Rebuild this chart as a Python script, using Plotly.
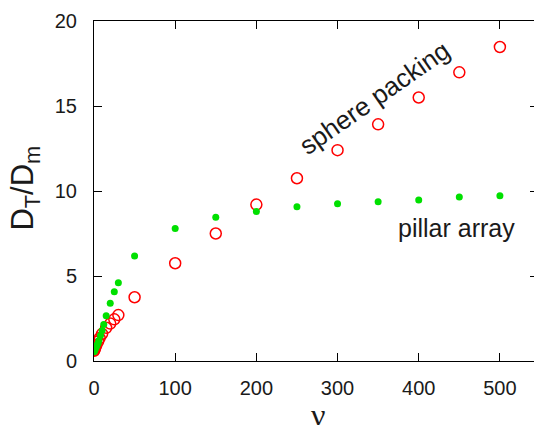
import plotly.graph_objects as go

# Dispersion ratio D_T/D_m versus Peclet-like number nu
nu_sphere = [0.1, 0.5, 1, 2, 3, 5, 7, 10, 15, 20, 25, 30, 50,
             100, 150, 200, 250, 300, 350, 400, 450, 500]
dt_sphere = [0.6, 0.65, 0.75, 0.85, 0.95, 1.15, 1.35, 1.6, 1.95, 2.2, 2.45, 2.7, 3.75,
             5.75, 7.5, 9.2, 10.75, 12.4, 13.92, 15.5, 16.98, 18.47]

nu_pillar = [0.1, 0.5, 1, 2, 3, 4, 5, 6, 8, 10, 12, 15, 20, 25, 30, 50,
             100, 150, 200, 250, 300, 350, 400, 450, 500]
dt_pillar = [0.55, 0.6, 0.65, 0.75, 0.85, 0.95, 1.05, 1.2, 1.5, 1.8, 2.15, 2.66, 3.39, 4.08, 4.6, 6.18,
             7.8, 8.45, 8.8, 9.08, 9.25, 9.37, 9.47, 9.65, 9.72]

x_ticks = [0, 100, 200, 300, 400, 500]
y_ticks = [0, 5, 10, 15, 20]

FONT = "Liberation Sans, Arial, sans-serif"

fig = go.Figure()
fig.add_trace(go.Scatter(
    x=nu_sphere, y=dt_sphere, mode="markers", name="sphere packing",
    marker=dict(symbol="circle-open", size=11, color="#ff0000",
                line=dict(width=1.5, color="#ff0000")),
))
fig.add_trace(go.Scatter(
    x=nu_pillar, y=dt_pillar, mode="markers", name="pillar array",
    marker=dict(symbol="circle", size=7, color="#00e000", line=dict(width=0)),
))
# invisible trace carrying the right-hand tick marks
fig.add_trace(go.Scatter(x=[None], y=[None], yaxis="y2", showlegend=False,
                         hoverinfo="skip"))

axis_common = dict(
    showgrid=False, zeroline=False, showline=True, linecolor="black", linewidth=1,
    ticks="inside", tickcolor="black", tickwidth=1, ticklen=8,
    tickfont=dict(family=FONT, size=20, color="#1a1a1a"),
)

fig.update_layout(
    width=534, height=425,
    margin=dict(l=94, r=0, t=21, b=64),
    paper_bgcolor="white", plot_bgcolor="white",
    showlegend=False,
    xaxis=dict(range=[0, 542], tickvals=x_ticks, mirror="ticks",
               ticklabelstandoff=9, **axis_common),
    yaxis=dict(range=[0, 20], tickvals=y_ticks, mirror=False,
               ticklabelstandoff=12, **axis_common),
    yaxis2=dict(range=[0, 20], tickvals=y_ticks, overlaying="y", side="right",
                showgrid=False, zeroline=False, showline=False,
                ticks="inside", ticklen=4, tickcolor="black", tickwidth=1,
                showticklabels=False),
    annotations=[
        dict(text="D<sub>T</sub>/D<sub>m</sub>", xref="paper", yref="paper",
             x=-0.157, y=0.51, textangle=-90, showarrow=False,
             xanchor="center", yanchor="middle",
             font=dict(family=FONT, size=31, color="#1a1a1a")),
        dict(text="ν", xref="paper", yref="paper", x=0.51, y=-0.1,
             showarrow=False, xanchor="center", yanchor="top",
             font=dict(family="Liberation Serif, Times New Roman, serif",
                       size=32, color="#1a1a1a")),
        dict(text="sphere packing", x=345, y=15.5, xref="x", yref="y",
             textangle=-35, showarrow=False, xanchor="center", yanchor="middle",
             font=dict(family=FONT, size=26, color="#1a1a1a")),
        dict(text="pillar array", x=446, y=7.85, xref="x", yref="y",
             showarrow=False, xanchor="center", yanchor="middle",
             font=dict(family=FONT, size=25, color="#1a1a1a")),
    ],
)

fig.write_html("out.html")
